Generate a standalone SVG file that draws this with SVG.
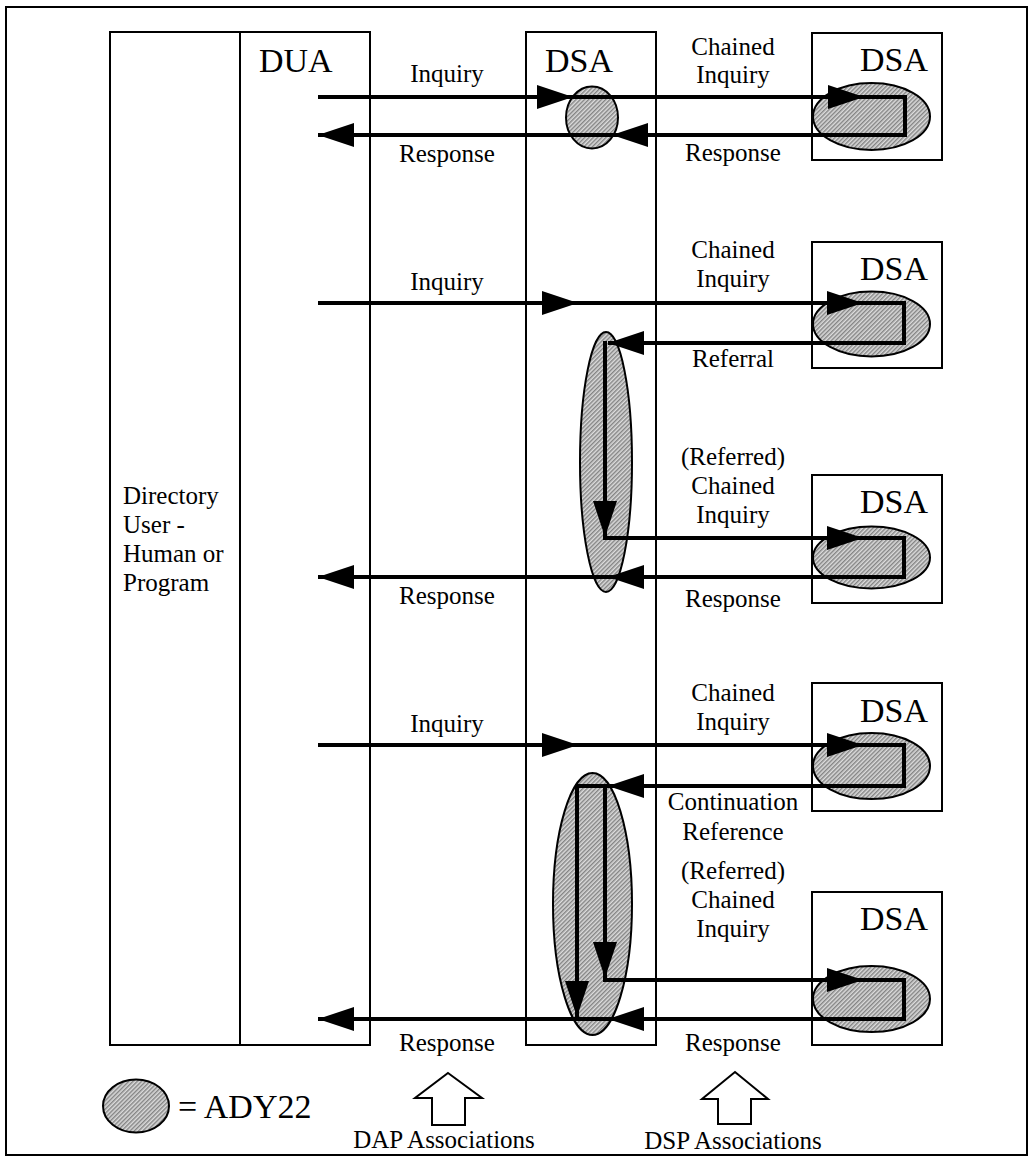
<svg xmlns="http://www.w3.org/2000/svg" width="1034" height="1165" viewBox="0 0 1034 1165">
<style>
.box{fill:none;stroke:#000;stroke-width:2}
.ell{fill:url(#hatch);stroke:#000;stroke-width:2}
.con{fill:none;stroke:#000;stroke-width:4;marker-end:url(#ah)}
.seg{fill:none;stroke:#000;stroke-width:4}
text{font-family:'Liberation Serif','Times New Roman',Times,serif}
.t{font-size:25px;fill:#000}
.tc{text-anchor:middle}
.big{font-size:34px;fill:#000}
.hollow{fill:#fff;stroke:#000;stroke-width:2;stroke-linejoin:miter}
</style>
<defs>
<pattern id="hatch" width="3" height="3" patternUnits="userSpaceOnUse" patternTransform="rotate(45)">
<rect width="3" height="3" fill="#dcdcdc"/>
<line x1="0.75" y1="0" x2="0.75" y2="3" stroke="#7a7a7a" stroke-width="1.3"/>
</pattern>
<marker id="ah" markerUnits="userSpaceOnUse" markerWidth="36" markerHeight="24" refX="36" refY="12" orient="auto">
<path d="M0,0 L36,12 L0,24 Z" fill="#000"/>
</marker>
</defs>
<rect width="1034" height="1165" fill="#fff"/>
<g id="frame"><rect class="box" x="6" y="7" width="1021" height="1148" stroke="#222"/></g>

<g id="user">
<rect class="box" x="110" y="32" width="130" height="1013"/>
<text class="t" x="123" y="504">Directory</text>
<text class="t" x="123" y="533">User -</text>
<text class="t" x="123" y="562">Human or</text>
<text class="t" x="123" y="591">Program</text>
</g>
<g id="dua">
<rect class="box" x="240" y="32" width="130" height="1013"/>
<text class="big" x="259" y="72">DUA</text>
</g>
<g id="dsa-main">
<rect class="box" x="526" y="32" width="130" height="1013"/>
<text class="big" x="545" y="72">DSA</text>
<ellipse class="ell" cx="592" cy="117.5" rx="26" ry="31"/>
<ellipse class="ell" cx="606" cy="462" rx="26" ry="130"/>
<ellipse class="ell" cx="592.5" cy="904" rx="39.5" ry="131"/>
</g>
<g id="dsa1">
<rect class="box" x="812" y="33" width="130" height="127"/>
<text class="big" x="928" y="71" text-anchor="end">DSA</text>
<ellipse class="ell" cx="871.5" cy="116.5" rx="58.5" ry="33.5"/>
</g>
<g id="dsa2">
<rect class="box" x="812" y="242" width="130" height="126"/>
<text class="big" x="928" y="280" text-anchor="end">DSA</text>
<ellipse class="ell" cx="871.5" cy="324" rx="58.5" ry="32.5"/>
</g>
<g id="dsa3">
<rect class="box" x="812" y="475" width="130" height="128"/>
<text class="big" x="928" y="513" text-anchor="end">DSA</text>
<ellipse class="ell" cx="871.5" cy="557.5" rx="58.5" ry="31"/>
</g>
<g id="dsa4">
<rect class="box" x="812" y="683" width="130" height="128"/>
<text class="big" x="928" y="722" text-anchor="end">DSA</text>
<ellipse class="ell" cx="871.5" cy="766" rx="58.5" ry="33"/>
</g>
<g id="dsa5">
<rect class="box" x="812" y="892" width="130" height="153"/>
<text class="big" x="928" y="930" text-anchor="end">DSA</text>
<ellipse class="ell" cx="871.5" cy="999" rx="58.5" ry="33"/>
</g>

<g id="connectors">
<path class="con" d="M318,97 H573"/>
<path class="con" d="M573,97 H864"/>
<path class="con" d="M862,97 H905 V135 H612"/>
<path class="con" d="M612,135 H318"/>

<path class="con" d="M318,303 H578"/>
<path class="con" d="M578,303 H863"/>
<path class="con" d="M862,303 H904 V343 H608"/>
<path class="con" d="M605,341 V537"/>
<path class="con" d="M603,538 H863"/>
<path class="con" d="M862,538 H904 V577 H608"/>
<path class="con" d="M608,577 H318"/>

<path class="con" d="M318,745 H578"/>
<path class="con" d="M578,745 H863"/>
<path class="con" d="M862,745 H904 V786 H608"/>
<path class="seg" d="M610,786 H575"/>
<path class="con" d="M577,784 V1017"/>
<path class="con" d="M605,784 V978"/>
<path class="con" d="M603,980 H863"/>
<path class="con" d="M862,980 H904 V1019 H608"/>
<path class="con" d="M608,1019 H318"/>
</g>

<g id="labels">
<text class="t tc" x="447" y="82">Inquiry</text>
<text class="t tc" x="447" y="162">Response</text>
<text class="t tc" x="733" y="55">Chained</text>
<text class="t tc" x="733" y="83">Inquiry</text>
<text class="t tc" x="733" y="161">Response</text>

<text class="t tc" x="447" y="290">Inquiry</text>
<text class="t tc" x="733" y="258">Chained</text>
<text class="t tc" x="733" y="287">Inquiry</text>
<text class="t tc" x="733" y="367">Referral</text>

<text class="t tc" x="733" y="465">(Referred)</text>
<text class="t tc" x="733" y="494">Chained</text>
<text class="t tc" x="733" y="523">Inquiry</text>
<text class="t tc" x="447" y="604">Response</text>
<text class="t tc" x="733" y="607">Response</text>

<text class="t tc" x="447" y="732">Inquiry</text>
<text class="t tc" x="733" y="701">Chained</text>
<text class="t tc" x="733" y="730">Inquiry</text>
<text class="t tc" x="733" y="810">Continuation</text>
<text class="t tc" x="733" y="840">Reference</text>

<text class="t tc" x="733" y="879">(Referred)</text>
<text class="t tc" x="733" y="908">Chained</text>
<text class="t tc" x="733" y="937">Inquiry</text>
<text class="t tc" x="447" y="1051">Response</text>
<text class="t tc" x="733" y="1051">Response</text>
</g>

<g id="legend">
<ellipse class="ell" cx="136" cy="1106" rx="33" ry="26.5"/>
<text class="big" x="178" y="1118">= ADY22</text>
</g>
<g id="dap-assoc">
<path class="hollow" d="M448,1073 L482,1098 H465 V1125 H432 V1098 H415 Z"/>
<text class="t tc" x="444" y="1148">DAP Associations</text>
</g>
<g id="dsp-assoc">
<path class="hollow" d="M735,1072 L768,1099 H751 V1124 H718 V1099 H702 Z"/>
<text class="t tc" x="733" y="1149">DSP Associations</text>
</g>
</svg>
